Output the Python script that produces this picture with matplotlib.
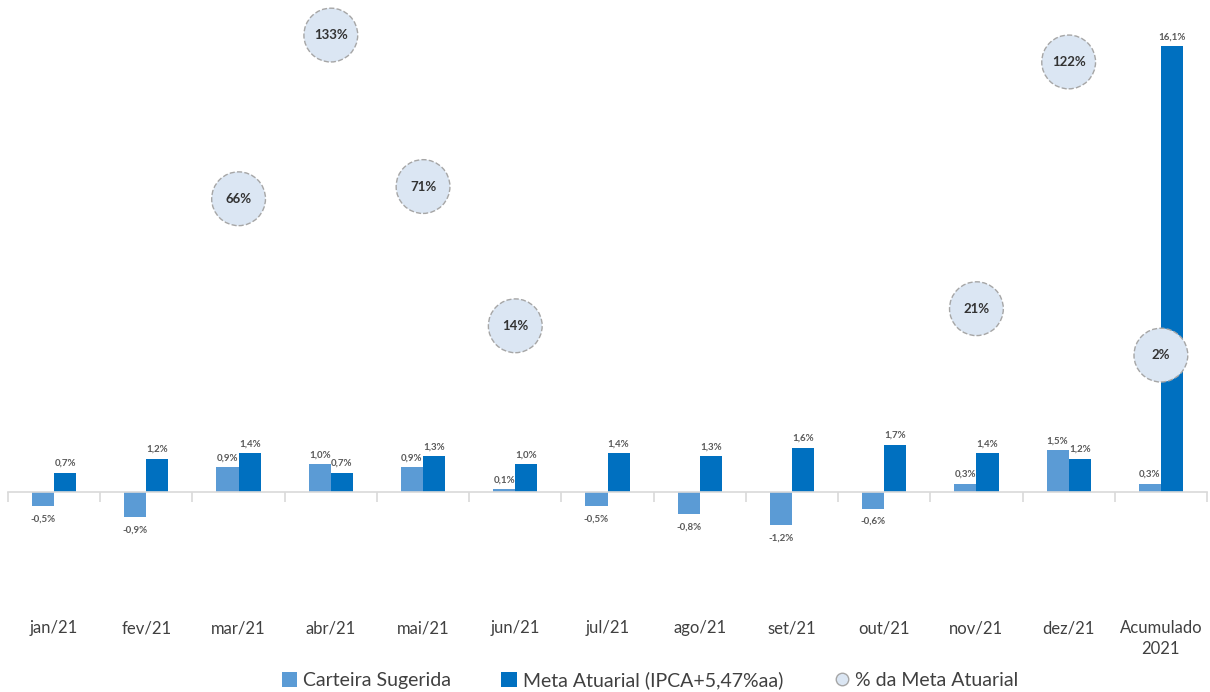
import numpy as np
import matplotlib.pyplot as plt
from matplotlib.patches import Patch
from matplotlib.lines import Line2D

plt.rcParams['font.family'] = ['Lato', 'DejaVu Sans']

meses = ["jan/21", "fev/21", "mar/21", "abr/21", "mai/21", "jun/21", "jul/21",
         "ago/21", "set/21", "out/21", "nov/21", "dez/21", "Acumulado\n2021"]
carteira = [-0.5, -0.9, 0.9, 1.0, 0.9, 0.1, -0.5, -0.8, -1.2, -0.6, 0.3, 1.5, 0.3]
meta = [0.7, 1.2, 1.4, 0.7, 1.3, 1.0, 1.4, 1.3, 1.6, 1.7, 1.4, 1.2, 16.1]
pct_meta = [np.nan, np.nan, 66, 133, 71, 14, np.nan, np.nan, np.nan, np.nan, 21, 122, 2]

c_cart = "#5b9bd5"
c_meta = "#0070c0"
c_txt = "#595959"

fig = plt.figure(figsize=(12.1, 6.92), dpi=100)
ax = fig.add_axes([8 / 1210, 92 / 692, 1199 / 1210, 580 / 692])
x = np.arange(len(meses))
w = 0.24

b1 = ax.bar(x - w / 2, carteira, w, color=c_cart, zorder=2)
b2 = ax.bar(x + w / 2, meta, w, color=c_meta, zorder=2)

def fmt(v):
    return f"{v:.1f}%".replace(".", ",")

for bars, vals in ((b1, carteira), (b2, meta)):
    for r, v in zip(bars, vals):
        cx = r.get_x() + r.get_width() / 2
        if v >= 0:
            ax.annotate(fmt(v), (cx, v), xytext=(0, 3.5), textcoords="offset points",
                        ha="center", va="bottom", fontsize=7, color=c_txt, fontweight="bold")
        else:
            ax.annotate(fmt(v), (cx, v), xytext=(0, -6), textcoords="offset points",
                        ha="center", va="top", fontsize=7, color=c_txt, fontweight="bold")

ax.set_xlim(-0.5, len(meses) - 0.5)
ax.set_ylim(-108 / 27.7, 472 / 27.7)

# zero line with category separators
for s in ("top", "right", "left"):
    ax.spines[s].set_visible(False)
ax.spines["bottom"].set_position(("data", 0))
ax.spines["bottom"].set_color("#d9d9d9")
ax.spines["bottom"].set_linewidth(1.2)
ax.set_xticks(x)
ax.set_xticklabels([])
ax.tick_params(axis="x", which="major", length=0)
ax.set_xticks(np.arange(len(meses) + 1) - 0.5, minor=True)
ax.tick_params(axis="x", which="minor", length=7, color="#d9d9d9", width=1.2, direction="out")
ax.set_yticks([])

for i, m in enumerate(meses):
    ax.text(i, -20 / 580, m, transform=ax.get_xaxis_transform(), ha="center", va="top",
            fontsize=12, color="#404040", linespacing=1.35)

# secondary axis for bubbles
ax2 = ax.twinx()
ax2.set_ylim(-240 / 2.443, 340 / 2.443)
ax2.set_axis_off()
ax2.scatter(x, pct_meta, s=1500, facecolor="#dbe6f3", edgecolor="#a6a6a6",
            linewidths=1.0, linestyles="--", zorder=3, clip_on=False)
for i, p in enumerate(pct_meta):
    if not np.isnan(p):
        ax2.text(i, p, f"{p:.0f}%", ha="center", va="center", fontsize=9.5,
                 fontweight="bold", color="#333333", zorder=4)

handles = [
    Patch(facecolor=c_cart, label="Carteira Sugerida"),
    Patch(facecolor=c_meta, label="Meta Atuarial (IPCA+5,47%aa)"),
    Line2D([], [], marker="o", linestyle="none", markersize=9, markerfacecolor="#dbe6f3",
           markeredgecolor="#a6a6a6", label="% da Meta Atuarial"),
]
leg = fig.legend(handles=handles, loc="center", bbox_to_anchor=(650 / 1210, 12 / 692), ncol=3,
                 frameon=False, fontsize=14, handlelength=0.8, handleheight=0.8,
                 handletextpad=0.3, columnspacing=2.6)
for t in leg.get_texts():
    t.set_color("#404040")

fig.savefig("out.png", dpi=100)
